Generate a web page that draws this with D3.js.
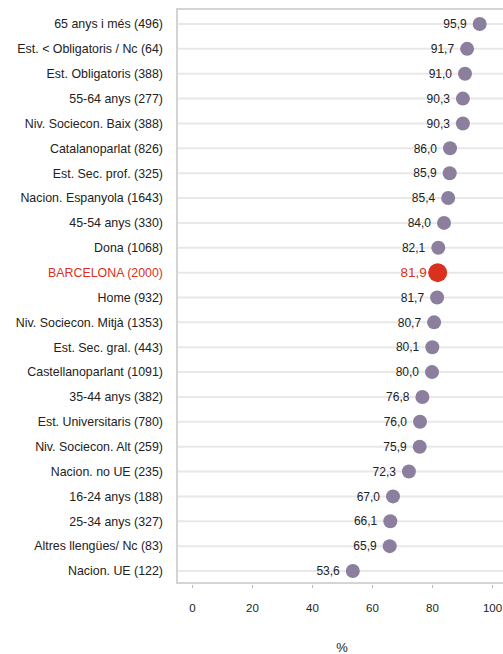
<!DOCTYPE html>
<html><head><meta charset="utf-8">
<script src="https://cdn.jsdelivr.net/npm/d3@7"></script>
<style>body{margin:0;background:#fff}text{font-family:"Liberation Sans",Arial,sans-serif}</style>
</head><body><svg id="c" width="503" height="654"></svg>
<script>
const categories = ["65 anys i més (496)","Est. < Obligatoris / Nc (64)","Est. Obligatoris (388)","55-64 anys (277)","Niv. Sociecon. Baix (388)","Catalanoparlat (826)","Est. Sec. prof. (325)","Nacion. Espanyola (1643)","45-54 anys (330)","Dona (1068)","BARCELONA (2000)","Home (932)","Niv. Sociecon. Mitjà (1353)","Est. Sec. gral. (443)","Castellanoparlant (1091)","35-44 anys (382)","Est. Universitaris (780)","Niv. Sociecon. Alt (259)","Nacion. no UE (235)","16-24 anys (188)","25-34 anys (327)","Altres llengües/ Nc (83)","Nacion. UE (122)"];
const values = [95.9,91.7,91.0,90.3,90.3,86.0,85.9,85.4,84.0,82.1,81.9,81.7,80.7,80.1,80.0,76.8,76.0,75.9,72.3,67.0,66.1,65.9,53.6];
const valueLabels = ["95,9","91,7","91,0","90,3","90,3","86,0","85,9","85,4","84,0","82,1","81,9","81,7","80,7","80,1","80,0","76,8","76,0","75,9","72,3","67,0","66,1","65,9","53,6"];
const highlight = "BARCELONA (2000)";
const xTicks = [0,20,40,60,80,100];
const xTitle = "%";

(function(){
const svg = d3.select("#c");
const x = d3.scaleLinear().domain([0,100]).range([192,492]);
const y = d3.scalePoint().domain(categories).range([24,571]);
const pl = 177, pt = 9, pb = 583, pr = 503;
const purple = "#8c7f9e", red = "#d9311d";

// gridlines
svg.append("g").selectAll("line").data(categories).join("line")
  .attr("x1", pl).attr("x2", pr).attr("y1", d=>y(d)).attr("y2", d=>y(d))
  .attr("stroke", "#e8e8e8").attr("stroke-width", 2);
// frame
svg.append("path").attr("d", `M${pr},${pt}H${pl}V${pb}H${pr}`)
  .attr("fill","none").attr("stroke","#d4d4d4").attr("stroke-width",2);

// x axis
const ax = svg.append("g").attr("transform", `translate(0,${pb+2})`)
  .call(d3.axisBottom(x).tickValues(xTicks).tickSize(3).tickPadding(16).tickFormat(d3.format("d")));
ax.select(".domain").remove();
ax.selectAll(".tick line").attr("stroke","#bbb");
ax.selectAll("text").attr("font-size",11.5).attr("fill","#222").attr("font-family","Liberation Sans, Arial, sans-serif");

svg.append("text").attr("x", (x(0)+x(100))/2).attr("y", 652).attr("text-anchor","middle")
  .attr("font-size",13).attr("fill","#222").text(xTitle);

// category labels
svg.append("g").selectAll("text").data(categories).join("text")
  .attr("x", 163).attr("y", d=>y(d)).attr("dy","0.35em").attr("text-anchor","end")
  .attr("font-size",12.4).attr("fill", d=>d===highlight?red:"#222").text(d=>d);

const data = categories.map((c,i)=>({c, v:values[i], l:valueLabels[i]}));
// dots
svg.append("g").selectAll("circle").data(data).join("circle")
  .attr("cx", d=>x(d.v)).attr("cy", d=>y(d.c)).attr("r", d=>d.c===highlight?9.5:7)
  .attr("fill", d=>d.c===highlight?red:purple);
// value labels
svg.append("g").selectAll("text").data(data).join("text")
  .attr("x", d=>x(d.v) - (d.c===highlight?11:13)).attr("y", d=>y(d.c)).attr("dy","0.35em")
  .attr("text-anchor","end").attr("font-size", d=>d.c===highlight?13.5:12)
  .attr("fill", d=>d.c===highlight?red:"#222").text(d=>d.l);
})();
</script></body></html>
